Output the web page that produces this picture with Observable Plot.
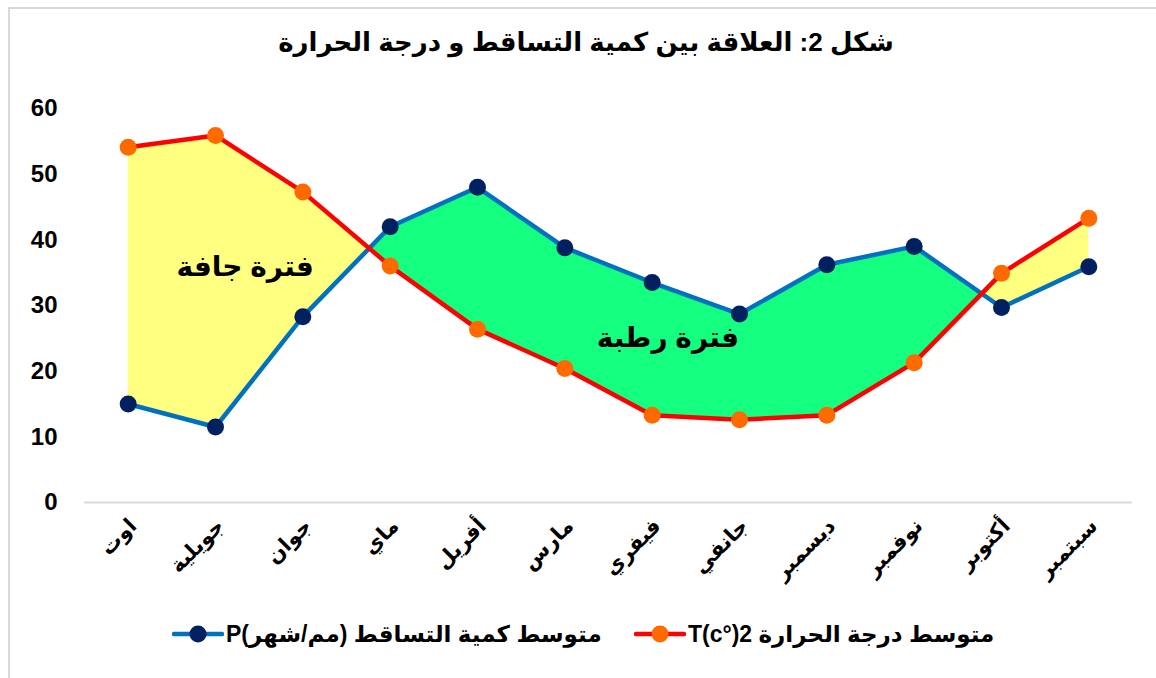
<!DOCTYPE html>
<html>
<head>
<meta charset="utf-8">
<script src="https://cdn.jsdelivr.net/npm/d3@7"></script>
<script src="https://cdn.jsdelivr.net/npm/@observablehq/plot@0.6"></script>
<style>
  html, body { margin: 0; padding: 0; background: #fff; overflow: hidden; }
  body { width: 1156px; height: 678px; position: relative; font-family: "Liberation Sans", Arial, "DejaVu Sans", sans-serif; }
  #frame { position: absolute; left: 8px; top: 7px; width: 1300px; height: 800px; border: 2px solid #d9d9d9; box-sizing: border-box; }
  #title { position: absolute; left: 0; top: 27px; width: 1172px; text-align: center; font-weight: bold; font-size: 26px; direction: rtl; color: #000; }
  #chart { position: absolute; left: 0; top: 80px; }
  #legend { position: absolute; left: 0; top: 619px; width: 1156px; height: 30px; font-weight: bold; font-size: 23px; color: #000; }
  .item { position: absolute; top: 0; display: flex; align-items: center; height: 30px; }
  .item span { direction: rtl; unicode-bidi: embed; white-space: nowrap; }
</style>
</head>
<body>
<div id="frame"></div>
<div id="title">شكل 2: العلاقة بين كمية التساقط و درجة الحرارة</div>
<div id="chart"></div>
<div id="legend"></div>
<script>
const months = ["اوت","جويلية","جوان","ماي","أفريل","مارس","فيفري","جانفي","ديسمبر","نوفمبر","أكتوبر","سبتمبر"];
const precipitation = [15, 11.5, 28.3, 42, 48, 38.8, 33.5, 28.7, 36.2, 39, 29.7, 35.9];
const temperature2 = [54.1, 55.9, 47.3, 36, 26.4, 20.4, 13.3, 12.6, 13.3, 21.3, 34.9, 43.3];
const yTicks = [0, 10, 20, 30, 40, 50, 60];
const seriesNames = ["متوسط كمية التساقط (مم/شهر)P", "متوسط درجة الحرارة T(c°)2"];
const periodLabels = [
  {text: "فترة جافة", x: 1.34, y: 35.8},
  {text: "فترة رطبة", x: 6.18, y: 25.1}
];

const colors = {
  pLine: "#0070C0", pDot: "#002060",
  tLine: "#FF0000", tDot: "#FF6A00",
  dry: "#FFFF80", wet: "#14FF80"
};

const rows = months.map((m, i) => ({i, month: m, p: precipitation[i], t: temperature2[i]}));

// Build fill regions between the two series, split at crossings
const areaRows = [];
let g = 0;
const fillOf = d => d >= 0 ? colors.dry : colors.wet;
let cur = fillOf(rows[0].t - rows[0].p);
areaRows.push({x: 0, p: rows[0].p, t: rows[0].t, g, fill: cur});
for (let i = 1; i < rows.length; i++) {
  const a = rows[i - 1], b = rows[i];
  const d0 = a.t - a.p, d1 = b.t - b.p;
  if ((d0 >= 0) !== (d1 >= 0)) {
    const f = d0 / (d0 - d1);
    const yc = a.p + f * (b.p - a.p);
    const xc = a.i + f;
    areaRows.push({x: xc, p: yc, t: yc, g, fill: cur});
    g++;
    cur = fillOf(d1);
    areaRows.push({x: xc, p: yc, t: yc, g, fill: cur});
  }
  areaRows.push({x: b.i, p: b.p, t: b.t, g, fill: cur});
}

const font = '"Liberation Sans", Arial, "DejaVu Sans", sans-serif';

const plot = Plot.plot({
  width: 1156,
  height: 520,
  marginLeft: 84,
  marginRight: 24,
  marginTop: 28,
  marginBottom: 98,
  style: {fontFamily: font, fontWeight: "bold", color: "#000", background: "transparent"},
  x: {domain: [-0.5, 11.5], axis: null},
  y: {domain: [0, 60], axis: null},
  color: {type: "identity"},
  marks: [
    Plot.areaY(areaRows, {x: "x", y1: "p", y2: "t", z: "g", fill: "fill", curve: "linear"}),
    Plot.ruleY([0], {stroke: "#d9d9d9", strokeWidth: 2}),
    // y tick labels
    Plot.text(yTicks, {y: d => d, frameAnchor: "left", dx: -27, textAnchor: "end", lineAnchor: "middle", fontSize: 24, fontWeight: "bold", fill: "#000", fontFamily: font}),
    // x tick labels (rotated)
    Plot.text(rows, {x: "i", text: "month", frameAnchor: "bottom", dy: 20, dx: 5, rotate: -45, textAnchor: "end", lineAnchor: "middle", fontSize: 21, fontWeight: "bold", fill: "#000", fontFamily: font}),
    Plot.line(rows, {x: "i", y: "p", stroke: colors.pLine, strokeWidth: 4.5, strokeLinejoin: "round"}),
    Plot.line(rows, {x: "i", y: "t", stroke: colors.tLine, strokeWidth: 4.5, strokeLinejoin: "round"}),
    Plot.dot(rows, {x: "i", y: "p", r: 8.5, fill: colors.pDot, stroke: "none"}),
    Plot.dot(rows, {x: "i", y: "t", r: 8.5, fill: colors.tDot, stroke: "none"}),
    Plot.text(periodLabels, {x: "x", y: "y", text: "text", fontSize: 28, fontWeight: "bold", fill: "#000", fontFamily: font})
  ]
});
document.getElementById("chart").appendChild(plot);

// Legend
const legend = document.getElementById("legend");
const legendItems = [
  {name: seriesNames[0], line: colors.pLine, dot: colors.pDot, left: 172},
  {name: seriesNames[1], line: colors.tLine, dot: colors.tDot, left: 634}
];
for (const it of legendItems) {
  const div = document.createElement("div");
  div.className = "item";
  div.style.left = it.left + "px";
  div.innerHTML = `<svg width="52" height="20" style="margin-right:2px"><line x1="2" y1="10" x2="50" y2="10" stroke="${it.line}" stroke-width="4.5" stroke-linecap="round"/><circle cx="26" cy="10" r="8.5" fill="${it.dot}"/></svg><span>${it.name}</span>`;
  legend.appendChild(div);
}
</script>
</body>
</html>
